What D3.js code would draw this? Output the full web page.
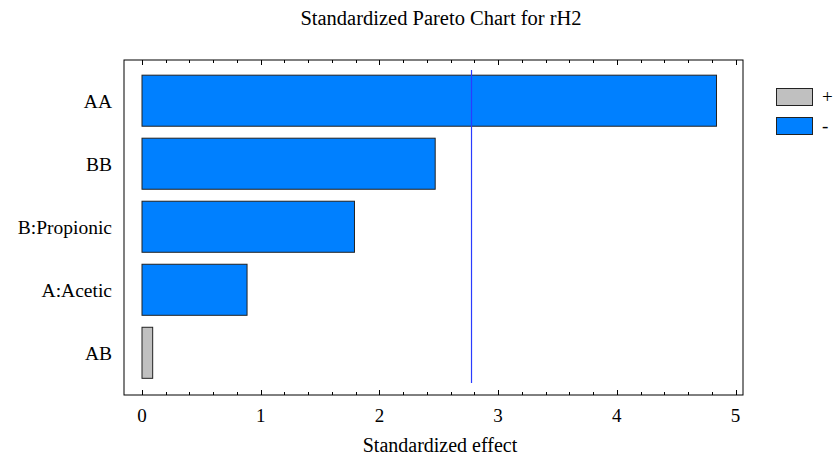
<!DOCTYPE html>
<html>
<head>
<meta charset="utf-8">
<script src="https://cdn.jsdelivr.net/npm/d3@7"></script>
<style>
  body { margin: 0; background: #fff; }
</style>
</head>
<body>
<svg id="chart" width="835" height="458"></svg>
<script>
// Effects, sorted largest first, with sign of each estimated effect
const terms = ["AA", "BB", "B:Propionic", "A:Acetic", "AB"];
const effects = [4.84, 2.47, 1.79, 0.885, 0.09];
const signs = ["-", "-", "-", "-", "+"];
const xTicks = [0, 1, 2, 3, 4, 5];
const criticalValue = 2.776;
const legendKeys = ["+", "-"];

const colors = { "+": "#c0c0c0", "-": "#0080ff" };
const serif = "'Liberation Serif', 'Times New Roman', Times, serif";

const svg = d3.select("#chart")
  .attr("font-family", serif);
const frame = { left: 124, right: 743, top: 60, bottom: 395 };

const x = d3.scaleLinear().domain([0, 5]).range([142, 735.5]);
const y = d3.scaleBand().domain(terms)
  .range([frame.top + 9.5, frame.bottom - 11]).paddingInner(0.19).paddingOuter(0.09);

// Title
svg.append("text").attr("x", 441).attr("y", 25).attr("text-anchor", "middle")
  .attr("font-size", 20.5).text("Standardized Pareto Chart for rH2");

// Bars
svg.selectAll("rect.bar").data(terms).join("rect")
  .attr("class", "bar")
  .attr("x", x(0))
  .attr("y", d => y(d))
  .attr("width", (d, i) => x(effects[i]) - x(0))
  .attr("height", y.bandwidth())
  .attr("fill", (d, i) => colors[signs[i]])
  .attr("stroke", "#222").attr("stroke-width", 1);

// Critical value line
svg.append("line")
  .attr("x1", x(criticalValue)).attr("x2", x(criticalValue))
  .attr("y1", frame.top + 10).attr("y2", frame.bottom - 12)
  .attr("stroke", "#2a3cff").attr("stroke-width", 1.2);

// Frame
svg.append("rect")
  .attr("x", frame.left).attr("y", frame.top)
  .attr("width", frame.right - frame.left).attr("height", frame.bottom - frame.top)
  .attr("fill", "none").attr("stroke", "#000").attr("stroke-width", 1);

// Ticks on top and bottom edges, pointing inward
const minor = d3.range(0, 5.0001, 0.2);
minor.forEach(v => {
  const major = Math.abs(v - Math.round(v)) < 1e-6;
  const len = major ? 5 : 3;
  const px = Math.round(x(v)) + 0.5;
  svg.append("line").attr("x1", px).attr("x2", px)
    .attr("y1", frame.bottom).attr("y2", frame.bottom - len).attr("stroke", "#000");
  svg.append("line").attr("x1", px).attr("x2", px)
    .attr("y1", frame.top).attr("y2", frame.top + len).attr("stroke", "#000");
});

// Bottom tick labels
svg.selectAll("text.xt").data(xTicks).join("text")
  .attr("class", "xt")
  .attr("x", d => x(d)).attr("y", 422)
  .attr("text-anchor", "middle").attr("font-size", 19).text(d => d);

// Axis title
svg.append("text").attr("x", 440).attr("y", 452).attr("text-anchor", "middle")
  .attr("font-size", 20).text("Standardized effect");

// Category labels
svg.selectAll("text.yl").data(terms).join("text")
  .attr("class", "yl")
  .attr("x", 112).attr("y", d => y(d) + y.bandwidth() / 2 + 7)
  .attr("text-anchor", "end").attr("font-size", 19.5).text(d => d);

// Legend
const lg = svg.append("g");
legendKeys.forEach((k, i) => {
  const yy = 88 + i * 29;
  lg.append("rect").attr("x", 776.5).attr("y", yy + 0.5).attr("width", 36).attr("height", 17)
    .attr("fill", colors[k]).attr("stroke", "#222");
  lg.append("text").attr("x", 822).attr("y", yy + 15)
    .attr("font-size", 19).text(k);
});
</script>
</body>
</html>
